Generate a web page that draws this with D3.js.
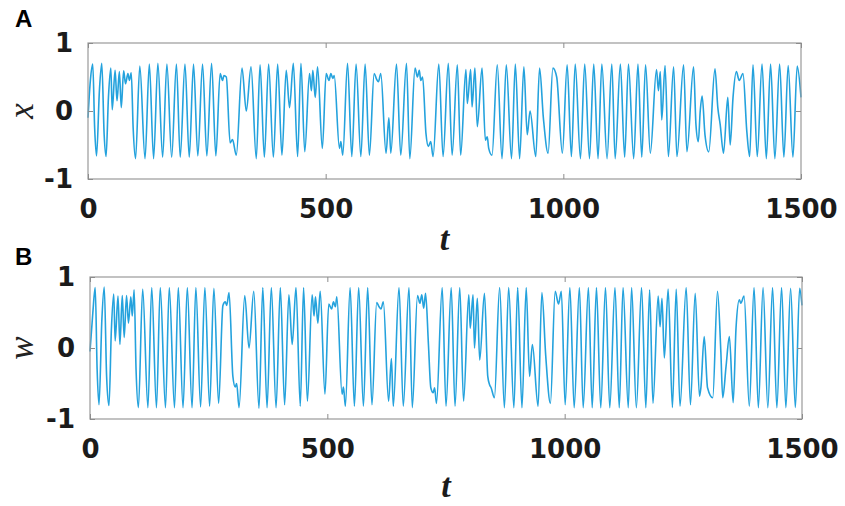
<!DOCTYPE html>
<html>
<head>
<meta charset="utf-8">
<script src="https://cdn.jsdelivr.net/npm/d3@7"></script>
<style>
  body { margin: 0; background: #fff; }
  svg { display: block; }
  .tick text { font-family: "DejaVu Sans", sans-serif; font-weight: bold; font-size: 26px; fill: #1b1b1b; }
  .tick line { stroke: #8c8c8c; }
</style>
</head>
<body>
<svg></svg>
<script>
var xTicks = [0, 500, 1000, 1500],
    yTicks = [-1, 0, 1];

// panel A: time and x (extrema)
var tA = [0,5,10,14,18,24,29,34,38,43,
  48,51,57,61,66,70,75,79,84,87,
  91,95,100,109,120,129,138,147,157,166,
  176,186,194,204,213,222,231,241,250,260,
  269,278,283,286,291,299,304,312,324,333,
  343,354,362,371,380,390,399,408,417,424,
  432,441,448,456,466,470,473,478,483,493,
  501,507,511,515,518,529,532,536,546,555,
  564,574,583,592,602,607,611,616,627,633,
  637,649,658,670,677,688,693,697,700,704,
  711,716,721,726,738,747,758,766,777,784,
  795,798,805,808,814,819,829,836,840,843,
  850,861,871,880,891,899,908,917,924,930,
  942,950,958,968,978,986,998,1008,1017,1025,
  1036,1045,1055,1064,1073,1081,1092,1102,1109,1120,
  1129,1137,1148,1157,1165,1173,1183,1196,1200,1204,
  1207,1214,1221,1232,1239,1253,1260,1274,1279,1284,
  1288,1292,1298,1306,1319,1325,1330,1337,1346,1351,
  1357,1364,1370,1378,1386,1392,1399,1408,1418,1427,
  1436,1445,1455,1464,1473,1483,1492,1500];
var xA = [-0.10,0.45,0.69,-0.25,-0.66,0.30,0.70,-0.35,-0.67,0.20,
  0.63,0.02,0.60,0.15,0.58,0.05,0.59,0.40,0.55,0.45,
  0.56,-0.25,-0.70,0.66,-0.70,0.69,-0.70,0.70,-0.68,0.69,
  -0.68,0.69,-0.68,0.69,-0.68,0.69,-0.66,0.69,-0.66,0.70,
  -0.66,0.55,0.45,0.52,0.50,-0.47,-0.42,-0.65,0.63,0.00,
  0.65,-0.70,0.68,-0.68,0.69,-0.68,0.69,-0.65,0.60,0.05,
  0.70,-0.67,0.70,-0.60,0.55,0.30,0.60,0.20,0.65,-0.55,
  0.55,0.45,0.55,0.48,0.52,-0.55,-0.45,-0.65,0.70,-0.67,
  0.69,-0.67,0.69,-0.65,0.55,0.47,0.43,0.55,-0.62,-0.10,
  -0.62,0.69,-0.65,0.70,-0.70,0.63,0.50,0.60,0.45,0.50,
  -0.33,-0.52,-0.45,-0.67,0.69,-0.67,0.70,-0.65,0.68,-0.65,
  0.61,0.11,0.61,0.06,0.63,-0.23,0.63,-0.43,-0.38,-0.55,
  -0.65,0.68,-0.70,0.68,-0.70,0.69,-0.70,0.65,-0.35,0.00,
  -0.67,0.63,-0.10,-0.62,0.63,0.50,-0.62,0.68,-0.67,0.69,
  -0.70,0.69,-0.70,0.69,-0.70,0.69,-0.70,0.69,-0.70,0.69,
  -0.68,0.69,-0.70,0.69,-0.68,0.68,-0.62,0.61,0.30,0.58,
  -0.13,0.67,-0.67,0.65,-0.67,0.68,-0.60,0.65,-0.20,-0.45,
  0.00,0.22,-0.35,-0.60,0.62,0.05,-0.20,-0.62,0.20,-0.50,
  0.20,0.58,0.45,0.55,-0.30,-0.67,0.68,-0.67,0.69,-0.70,
  0.69,-0.70,0.69,-0.68,0.67,-0.68,0.66,0.20];

// panel B: time and w
var tB = [0,6,11,15,19,25,30,35,40,45,
  50,53,59,63,68,72,77,81,86,89,
  93,97,102,111,122,130,140,148,159,167,
  178,186,196,205,215,223,233,242,252,261,
  271,280,285,288,293,301,306,309,314,326,
  335,345,356,364,373,382,392,401,410,419,
  426,434,443,450,458,468,472,475,480,485,
  495,503,509,513,517,520,531,534,538,548,
  557,566,576,585,594,604,609,613,618,629,
  635,639,651,660,672,679,690,695,699,703,
  707,713,718,723,726,730,742,750,761,769,
  779,787,798,801,807,810,816,821,831,838,
  842,845,852,863,873,882,893,901,910,919,
  926,932,944,952,960,970,980,987,993,1001,
  1011,1020,1031,1039,1050,1058,1067,1076,1086,1095,
  1106,1115,1123,1134,1141,1151,1162,1171,1179,1186,
  1197,1201,1205,1210,1218,1227,1235,1243,1256,1265,
  1275,1284,1287,1294,1301,1312,1322,1329,1333,1340,
  1347,1355,1361,1368,1371,1378,1389,1399,1408,1418,
  1428,1438,1447,1457,1466,1476,1486,1495,1500];
var wB = [-0.05,0.50,0.85,-0.30,-0.80,0.40,0.86,-0.40,-0.81,0.25,
  0.76,0.10,0.73,0.05,0.74,0.15,0.74,0.35,0.72,0.45,
  0.82,-0.30,-0.84,0.83,-0.84,0.85,-0.84,0.85,-0.84,0.85,
  -0.84,0.85,-0.84,0.85,-0.84,0.85,-0.83,0.85,-0.82,0.84,
  -0.78,0.60,0.65,0.60,0.78,-0.40,-0.55,-0.50,-0.84,0.74,
  0.00,0.80,-0.85,0.85,-0.84,0.85,-0.84,0.85,-0.80,0.75,
  0.05,0.85,-0.82,0.85,-0.75,0.75,0.45,0.72,0.35,0.80,
  -0.65,0.62,0.55,0.65,0.58,0.72,-0.65,-0.55,-0.82,0.85,
  -0.82,0.85,-0.82,0.85,-0.80,0.64,0.58,0.55,0.65,-0.75,
  -0.15,-0.82,0.85,-0.82,0.85,-0.84,0.74,0.63,0.75,0.56,
  0.77,0.05,-0.56,-0.63,-0.56,-0.78,0.85,-0.82,0.85,-0.82,
  0.85,-0.75,0.75,0.28,0.75,0.00,0.70,-0.17,0.77,-0.40,
  -0.52,-0.56,-0.70,0.85,-0.84,0.85,-0.84,0.85,-0.84,0.85,
  -0.40,0.05,-0.82,0.78,-0.10,-0.78,0.80,0.62,0.80,-0.80,
  0.85,-0.84,0.85,-0.84,0.85,-0.84,0.85,-0.84,0.85,-0.84,
  0.85,-0.84,0.85,-0.84,0.85,-0.84,0.85,-0.84,0.82,-0.78,
  0.73,0.30,0.70,-0.14,0.83,-0.84,0.83,-0.82,0.85,-0.80,
  0.77,-0.68,-0.56,0.16,-0.56,-0.70,0.80,-0.05,-0.70,-0.26,
  0.16,-0.77,0.28,0.68,0.63,0.73,-0.82,0.85,-0.84,0.85,
  -0.84,0.85,-0.84,0.85,-0.84,0.84,-0.84,0.84,0.60];

var svg = d3.select("svg").attr("width", 845).attr("height", 506),
    lineColor = "#24a2dd",
    frameColor = "#9a9a9a";

var panels = [
  {label: "A", ylab: "x", t: tA, v: xA, left: 88, right: 801, top: 43, bottom: 179, labelY: 27, tY: 250},
  {label: "B", ylab: "w", t: tB, v: wB, left: 90, right: 802, top: 277, bottom: 419, labelY: 265, tY: 497}
];

panels.forEach(function(p) {
  var x = d3.scaleLinear().domain([0, 1500]).range([p.left, p.right]),
      y = d3.scaleLinear().domain([-1, 1]).range([p.bottom, p.top]),
      g = svg.append("g"),
      fmt = function(d) { return String(d); };

  var pts = p.t.map(function(d, i) { return [d, p.v[i]]; });

  g.append("path")
    .datum(pts)
    .attr("fill", "none")
    .attr("stroke", lineColor)
    .attr("stroke-width", 1.6)
    .attr("stroke-linejoin", "round")
    .attr("d", d3.line()
      .x(function(d) { return x(d[0]); })
      .y(function(d) { return y(d[1]); })
      .curve(d3.curveMonotoneX));

  g.append("rect")
    .attr("x", p.left).attr("y", p.top)
    .attr("width", p.right - p.left).attr("height", p.bottom - p.top)
    .attr("fill", "none")
    .attr("stroke", frameColor)
    .attr("stroke-width", 1.2);

  // axes, ticks pointing inwards
  g.append("g").attr("transform", "translate(0," + p.bottom + ")")
    .call(d3.axisBottom(x).tickValues(xTicks).tickSize(-5).tickPadding(21).tickFormat(fmt))
    .call(function(a) { a.select(".domain").remove(); });
  g.append("g").attr("transform", "translate(0," + p.top + ")")
    .call(d3.axisTop(x).tickValues(xTicks).tickSize(-5).tickFormat(""))
    .call(function(a) { a.select(".domain").remove(); });
  g.append("g").attr("transform", "translate(" + p.left + ",0)")
    .call(d3.axisLeft(y).tickValues(yTicks).tickSize(-5).tickPadding(15).tickFormat(fmt))
    .call(function(a) { a.select(".domain").remove(); });
  g.append("g").attr("transform", "translate(" + p.right + ",0)")
    .call(d3.axisRight(y).tickValues(yTicks).tickSize(-5).tickFormat(""))
    .call(function(a) { a.select(".domain").remove(); });

  g.append("text")
    .attr("x", 15).attr("y", p.labelY)
    .style("font-family", "'Liberation Sans', Arial, sans-serif")
    .style("font-weight", "bold")
    .style("font-size", "24px")
    .text(p.label);

  g.append("text")
    .attr("transform", "translate(33," + ((p.top + p.bottom) / 2) + ") rotate(-90)")
    .attr("text-anchor", "middle")
    .style("font-family", "'Liberation Serif', serif")
    .style("font-style", "italic")
    .style("font-size", "35px")
    .style("fill", "#222")
    .text(p.ylab);

  g.append("text")
    .attr("x", (p.left + p.right) / 2).attr("y", p.tY)
    .attr("text-anchor", "middle")
    .style("font-family", "'Liberation Serif', serif")
    .style("font-style", "italic")
    .style("font-weight", "bold")
    .style("font-size", "34px")
    .style("fill", "#1b1b1b")
    .text("t");
});
</script>
</body>
</html>
